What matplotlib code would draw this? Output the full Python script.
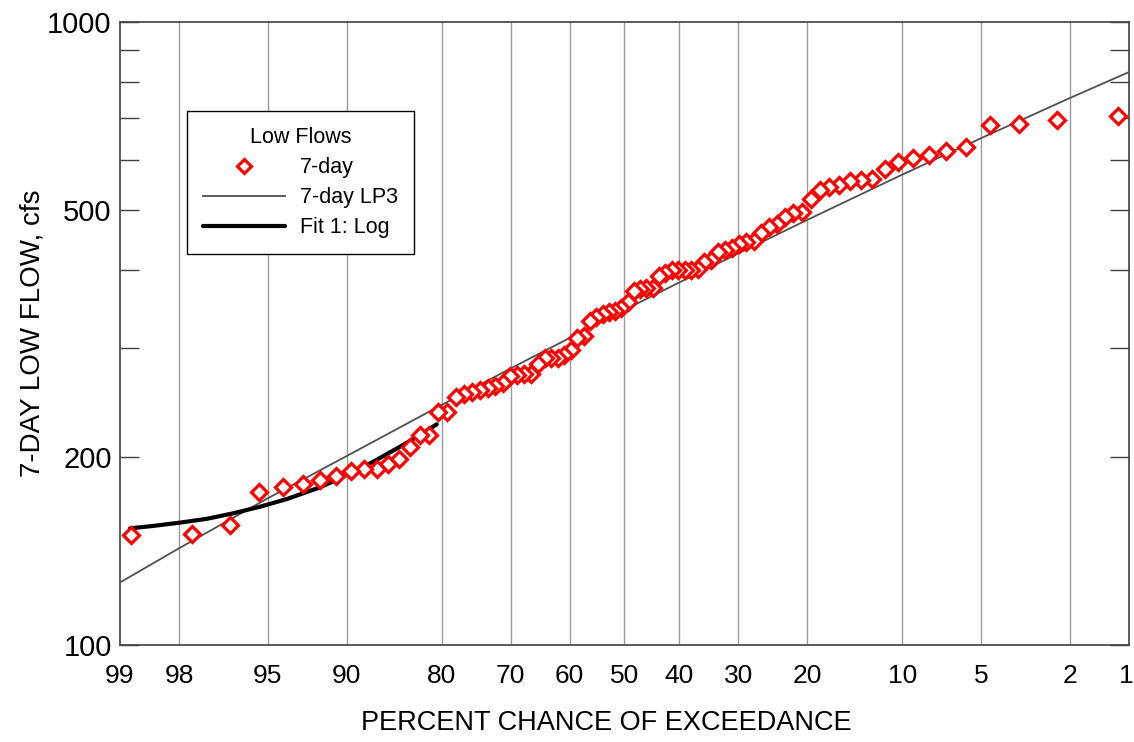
import numpy as np
import matplotlib
matplotlib.use("Agg")
import matplotlib.pyplot as plt
import matplotlib.transforms as mtransforms
from matplotlib.ticker import FixedLocator, NullFormatter, NullLocator
from statistics import NormalDist

# ---------------- data ----------------
# 7-day low flows (cfs), ranked from largest (rank 1) to smallest
flows_7day = [707, 696, 686, 684, 630, 621, 612, 605, 596, 581,
              560, 558, 556, 548, 544, 538, 520, 496, 494, 487,
              474, 469, 459, 445, 444, 440, 434, 431, 428, 415,
              412, 401, 400, 400, 400, 400, 396, 391, 374, 374,
              373, 370, 355, 348, 344, 342, 340, 336, 331, 313,
              311, 298, 292, 289, 289, 289, 283, 272, 272, 271,
              270, 263, 260, 259, 257, 255, 253, 250, 237, 237,
              217, 217, 208, 199, 195, 192, 192, 190, 187, 184,
              181, 179, 176, 156, 151, 150]

# 7-day LP3 frequency curve (percent chance of exceedance, cfs)
lp3_pct = [99, 98, 95, 90, 80, 70, 60, 50, 40, 30, 20, 10, 5, 2, 1]
lp3_flow = [126, 143, 172, 201, 243, 278, 311, 345, 382, 425, 481, 569, 651, 755, 831]

# Fit 1: Log curve (percent chance of exceedance, cfs)
fit_pct = [98.87, 98.51, 97.98, 97.30, 96.44, 95.36, 94.03, 91.98,
           89.99, 87.66, 84.97, 82.71, 80.67]
fit_flow = [153.9, 155.3, 157.2, 159.4, 162.7, 166.7, 171.5, 179.1,
            187.5, 196.9, 208.1, 217.3, 226.1]

x_ticks = [99, 98, 95, 90, 80, 70, 60, 50, 40, 30, 20, 10, 5, 2, 1]
y_major = [100, 200, 500, 1000]
y_minor = [300, 400, 600, 700, 800, 900]

# Weibull plotting positions of the ranked flows
n = len(flows_7day)
plot_pos = [100.0 * r / (n + 1) for r in range(1, n + 1)]

# ---------------- probability scale ----------------
_nd = NormalDist()
_ppf = np.vectorize(lambda q: _nd.inv_cdf(q), otypes=[float])
_cdf = np.vectorize(lambda z: _nd.cdf(z), otypes=[float])


def fwd(p):
    p = np.clip(np.asarray(p, dtype=float), 1e-4, 100 - 1e-4)
    return _ppf(p / 100.0)


def inv(z):
    return _cdf(np.asarray(z, dtype=float)) * 100.0


plt.rcParams["font.family"] = ["Liberation Sans", "DejaVu Sans"]

fig = plt.figure(figsize=(11.34, 7.42), dpi=100)
ax = fig.add_axes([0.1058, 0.1307, 0.8898, 0.8397])

ax.set_xscale("function", functions=(fwd, inv))
ax.set_yscale("log")
ax.set_xlim(99, 1)
ax.set_ylim(100, 1000)

# vertical grid
for t in x_ticks[1:-1]:
    ax.axvline(t, color="#9a9a9a", lw=1.0, zorder=1)

ax.plot(lp3_pct, lp3_flow, color="#505050", lw=1.3, zorder=3, label="7-day LP3")
ax.plot(fit_pct, fit_flow, color="black", lw=3.0, zorder=4, label="Fit 1: Log",
        solid_capstyle="round", solid_joinstyle="round")
ax.plot(plot_pos, flows_7day, linestyle="none", marker="D", ms=8.5,
        mfc="white", mec="#ff0000", mew=2.3, zorder=5, label="7-day")

ax.xaxis.set_major_locator(FixedLocator(x_ticks))
ax.xaxis.set_minor_locator(NullLocator())
ax.set_xticklabels([str(t) for t in x_ticks])
ax.tick_params(axis="x", which="both", length=0, pad=14, labelsize=19)
last = ax.get_xticklabels()[-1]
last.set_transform(last.get_transform() +
                   mtransforms.ScaledTranslation(-3 / 100, 0, fig.dpi_scale_trans))

ax.yaxis.set_major_locator(FixedLocator(y_major))
ax.yaxis.set_minor_locator(FixedLocator(y_minor))
ax.yaxis.set_minor_formatter(NullFormatter())
ax.set_yticklabels([str(v) for v in y_major])
ax.tick_params(axis="y", which="both", direction="in", length=14, width=1.0,
               color="#404040", left=True, right=True, labelsize=21, pad=6)

for s in ax.spines.values():
    s.set_color("#404040")
    s.set_linewidth(1.2)

ax.set_xlabel("PERCENT CHANCE OF EXCEEDANCE", fontsize=19.5)
ax.xaxis.set_label_coords(0.4817, -0.104)
ax.set_ylabel("7-DAY LOW FLOW, cfs", fontsize=20, labelpad=1.5)

h, l = ax.get_legend_handles_labels()
order = [2, 0, 1]
leg = ax.legend([h[i] for i in order], [l[i] for i in order], title="Low Flows",
                loc="upper left", bbox_to_anchor=(0.0664, 0.857), borderaxespad=0,
                fontsize=15.5, title_fontsize=15.5, handlelength=3.8, handletextpad=0.7,
                labelspacing=0.42, fancybox=False, framealpha=1, edgecolor="black",
                borderpad=0.75, markerscale=0.85)
leg.get_frame().set_linewidth(1.0)
leg.set_zorder(10)

fig.savefig("out.png", dpi=100)
